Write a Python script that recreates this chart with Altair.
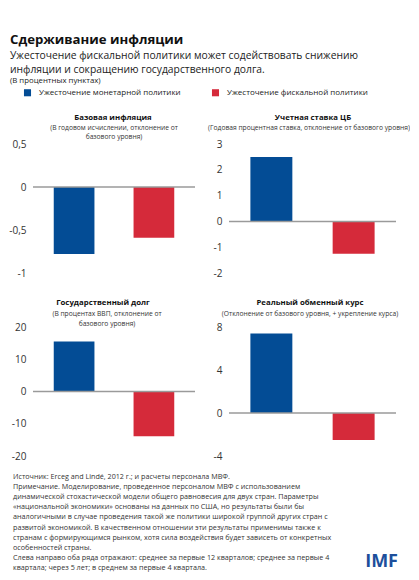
import altair as alt
import pandas as pd

FONT = "Open Sans"

# ---- data ----
series = ["Ужесточение монетарной политики", "Ужесточение фискальной политики"]
colors = ["#034C95", "#D52A3A"]

panel_titles = ["Базовая инфляция", "Учетная ставка ЦБ",
                "Государственный долг", "Реальный обменный курс"]
panel_subtitles = [
    ["(В годовом исчислении, отклонение от", "базового уровня)"],
    ["(Годовая процентная ставка, отклонение от базового уровня)"],
    ["(В процентах ВВП, отклонение от", "базового уровня)"],
    ["(Отклонение от базового уровня, + укрепление курса)"],
]
monetary = [-0.78, 2.5, 15.5, 7.4]
fiscal = [-0.59, -1.25, -13.9, -2.5]
y_domains = [[-1, 0.5], [-2, 3], [-20, 20], [-4, 8]]
y_ticks = [[-1, -0.5, 0, 0.5], [-2, -1, 0, 1, 2, 3], [-20, -10, 0, 10, 20], [-4, 0, 4, 8]]

main_title = "Сдерживание инфляции"
main_subtitle = ["Ужесточение фискальной политики может содействовать снижению",
                 "инфляции и сокращению государственного долга."]
units = "(В процентных пунктах)"
footer_lines = [
    "Источник: Erceg and Lindé, 2012 г.; и расчеты персонала МВФ.",
    "Примечание. Моделирование, проведенное персоналом МВФ с использованием",
    "динамической стохастической модели общего равновесия для двух стран. Параметры",
    "«национальной экономики» основаны на данных по США, но результаты были бы",
    "аналогичными в случае проведения такой же политики широкой группой других стран с",
    "развитой экономикой. В качественном отношении эти результаты применимы также к",
    "странам с формирующимся рынком, хотя сила воздействия будет зависеть от конкретных",
    "особенностей страны.",
    "Слева направо оба ряда отражают: среднее за первые 12 кварталов; среднее за первые 4",
    "квартала; через 5 лет; в среднем за первые 4 квартала.",
]
logo = "IMF"

one = pd.DataFrame({"k": [0]})


def label(text, x, y, size, weight="normal", color="#222", align="center",
          baseline="middle", line_height=None):
    kw = dict(align=align, baseline=baseline, font=FONT, fontSize=size,
              fontWeight=weight, color=color)
    if line_height is not None:
        kw["lineHeight"] = line_height
    return alt.Chart(one).mark_text(**kw).encode(
        x=alt.value(x), y=alt.value(y), text=alt.value(text))


legend = alt.Legend(orient="none", legendX=-10, legendY=-56, direction="horizontal",
                    title=None, symbolType="square", symbolSize=50, labelFontSize=8,
                    labelFont=FONT, labelColor="#222", labelOffset=7,
                    columnPadding=30, padding=0)

# title / subtitle placement per panel (x centre, title y, subtitle y's), local px
title_pos = [
    (80, -26, [-16, -7]),
    (84, -26, [-16]),
    (70, -24, [-13, -3]),
    (81, -24, [-13]),
]
sub_x = [81, 80, 74, 81]


def y_axis(i):
    return alt.Axis(values=y_ticks[i], grid=False, domain=False, ticks=False,
                    title=None, labelPadding=7, labelOverlap=False,
                    labelExpr="replace(''+datum.value, '.', ',')")


def panel(i, width, height, extra=()):
    df = pd.DataFrame({"series": series, "value": [monetary[i], fiscal[i]]})
    yscale = alt.Scale(domain=y_domains[i], nice=False, zero=True)
    bars = alt.Chart(df).mark_bar().encode(
        x=alt.X("series:N", sort=series, axis=None,
                scale=alt.Scale(paddingInner=0.49, paddingOuter=0.26)),
        y=alt.Y("value:Q", scale=yscale, axis=y_axis(i)),
        color=alt.Color("series:N", scale=alt.Scale(domain=series, range=colors),
                        legend=legend),
    )
    zero = alt.Chart(pd.DataFrame({"value": [0]})).mark_rule(
        color="#9a9a9a", strokeWidth=1.5).encode(
        y=alt.Y("value:Q", scale=yscale, axis=y_axis(i)))
    tx, ty, sys = title_pos[i]
    texts = [label(panel_titles[i], tx, ty, 7.8, weight="bold", color="#111")]
    for line, sy in zip(panel_subtitles[i], sys):
        texts.append(label(line, sub_x[i], sy, 6.7, color="#333"))
    return alt.layer(bars, zero, *texts, *extra).properties(width=width, height=height)


# header (drawn relative to the first panel's plot origin)
header = [
    label(main_title, -23, -104, 13.2, weight="bold", color="#111", align="left"),
    label(main_subtitle[0], -23, -88, 10.3, align="left"),
    label(main_subtitle[1], -23, -74, 10.3, align="left"),
    label(units, -23, -63, 7.8, align="left"),
]
# footer (drawn relative to the third panel's plot origin)
footer = [
    label(footer_lines, -20, 146, 7.2, color="#333", align="left", baseline="top",
          line_height=10.1),
    label(logo, 365, 235, 18, weight="bold", color="#1C4F9C", align="right"),
]

p1 = panel(0, 162, 129, header)
p2 = panel(1, 167, 129)
p3 = panel(2, 162, 129, footer)
p4 = panel(3, 167, 129)

chart = alt.concat(p1, p2, p3, p4, columns=2, bounds="flush", align="each",
                   spacing={"row": 54, "column": 34}).properties(
    padding={"left": 0, "top": 25, "right": 0, "bottom": 0}
).configure_view(stroke=None).configure_axis(
    labelFont=FONT, labelFontSize=10, labelColor="#333"
)

chart.save("out.html", embed_options={"renderer": "svg", "actions": False})
